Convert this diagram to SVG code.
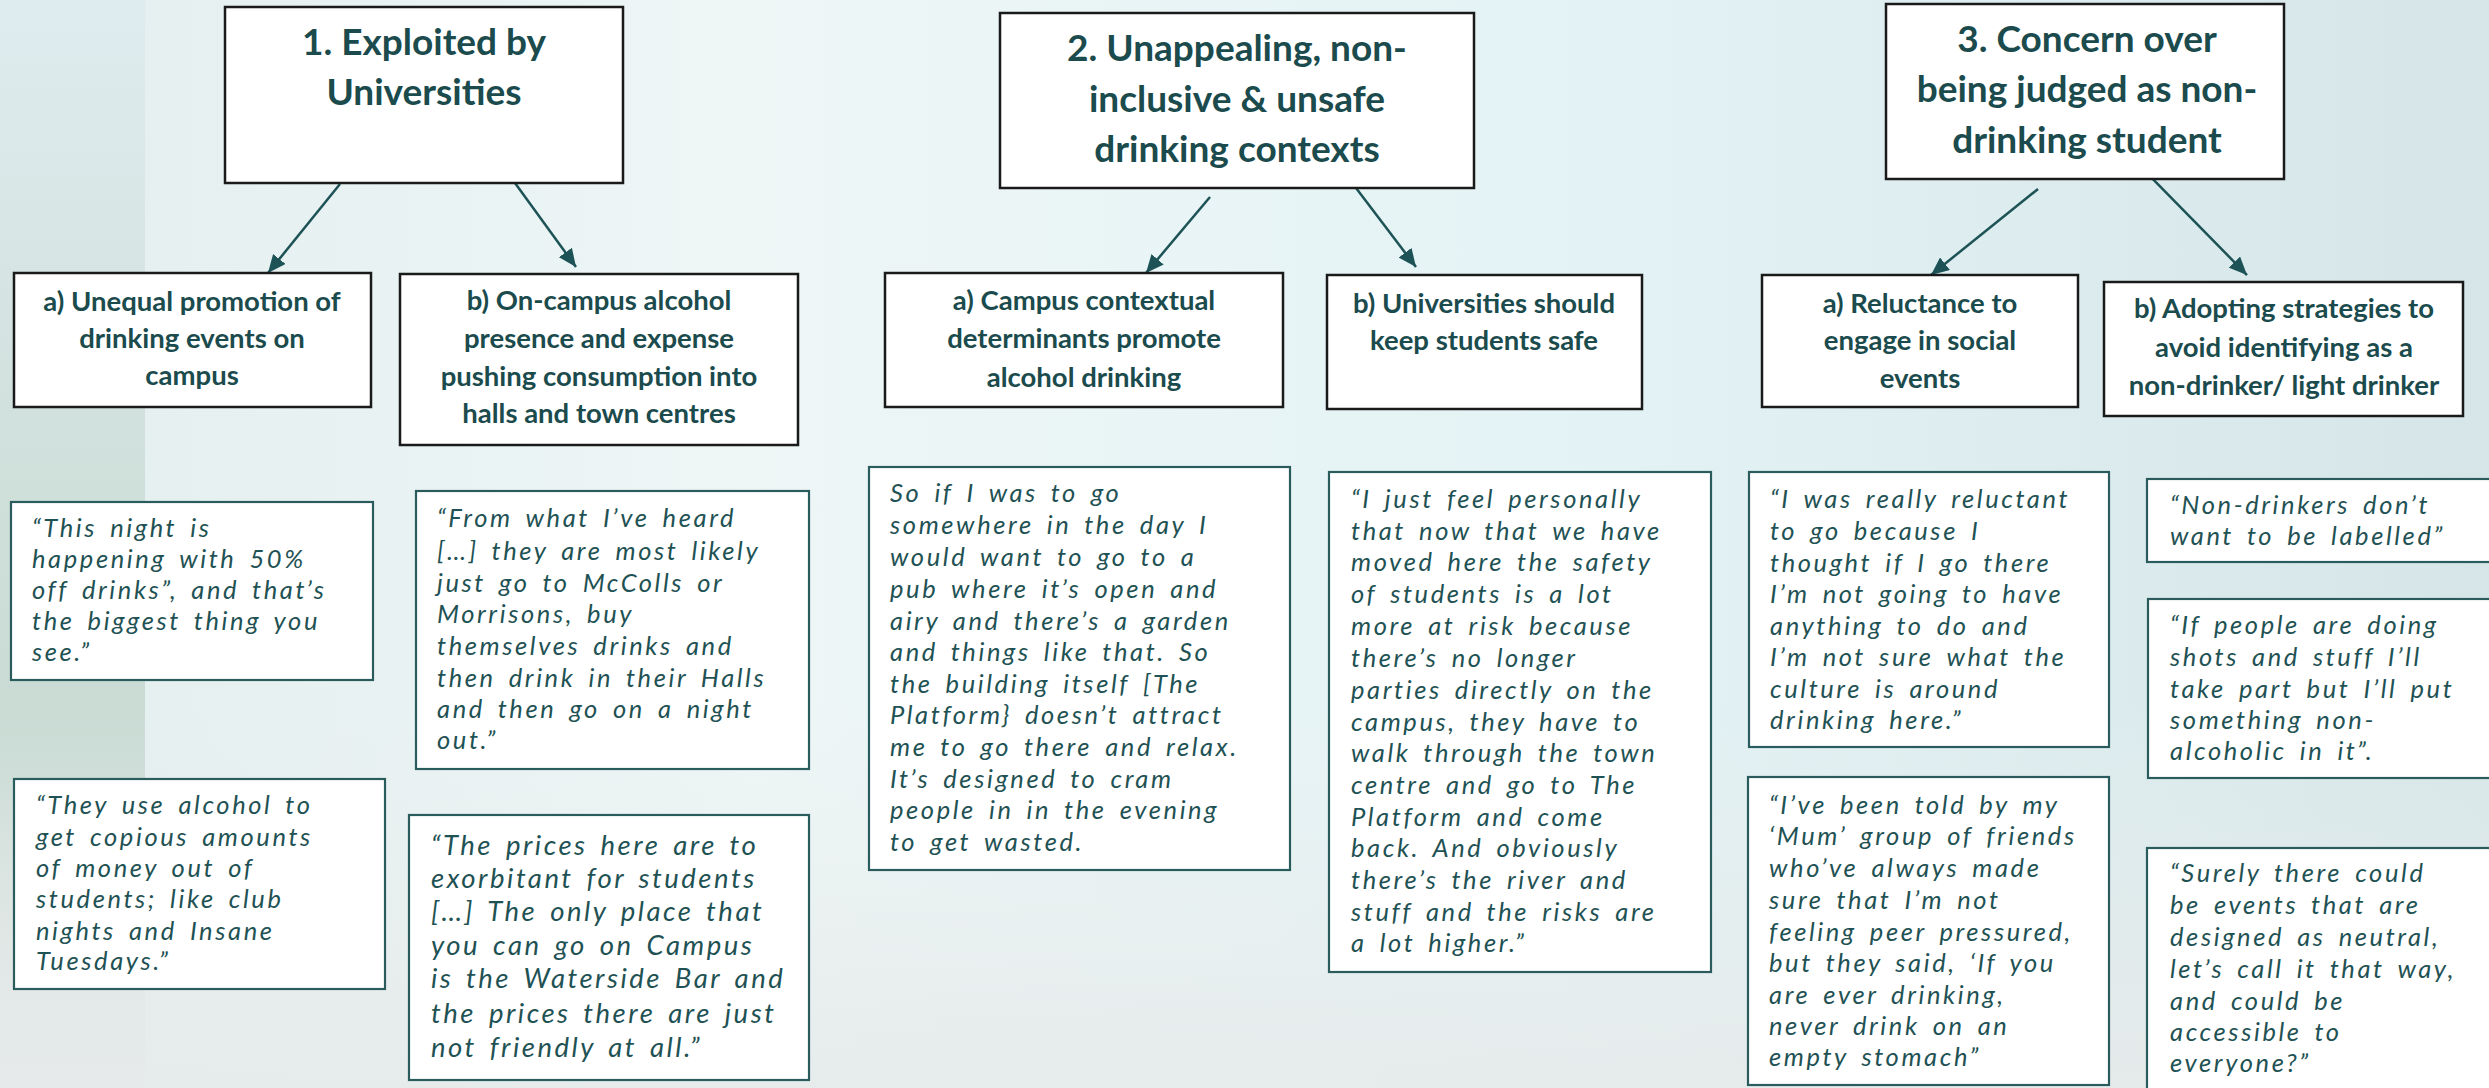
<svg xmlns="http://www.w3.org/2000/svg" width="2489" height="1088" viewBox="0 0 2489 1088">
<style>
.hbox{fill:#ffffff;stroke:#1a1a1a;stroke-width:2.5}
.qbox{fill:#ffffff;stroke:#2a5b5d;stroke-width:2.2}
.title{font-family:Lato,"Open Sans","Liberation Sans",sans-serif;font-weight:700;font-size:37px;fill:#1b4b4d;text-anchor:middle}
.sub{font-family:Lato,"Open Sans","Liberation Sans",sans-serif;font-weight:700;font-size:27.5px;fill:#1b4b4d;text-anchor:middle}
.q{font-family:Lato,"Open Sans","Liberation Sans",sans-serif;font-style:italic;font-size:25.5px;letter-spacing:2.6px;word-spacing:4.5px;fill:#1f5254}
.q2{font-family:Lato,"Open Sans","Liberation Sans",sans-serif;font-style:italic;font-size:27.5px;letter-spacing:2.5px;word-spacing:4px;fill:#1f5254}
.conn{stroke:#1d5356;stroke-width:2.5;fill:none}
</style>
<defs>
<linearGradient id="bgH" x1="0" y1="0" x2="1" y2="0">
<stop offset="0" stop-color="#e3eeee"/>
<stop offset="0.3" stop-color="#eef6f6"/>
<stop offset="0.62" stop-color="#e4f3f5"/>
<stop offset="1" stop-color="#d6e6e8"/>
</linearGradient>
<linearGradient id="bgL" x1="0" y1="0" x2="0" y2="1">
<stop offset="0" stop-color="#dfecef"/>
<stop offset="0.45" stop-color="#cfdfda"/>
<stop offset="0.7" stop-color="#c9dad3"/>
<stop offset="1" stop-color="#e3e8e7"/>
</linearGradient>
<linearGradient id="bgB" x1="0" y1="0" x2="0" y2="1">
<stop offset="0" stop-color="#e8eeee" stop-opacity="0"/>
<stop offset="1" stop-color="#e6eaea" stop-opacity="0.9"/>
</linearGradient>
<marker id="ah" markerUnits="userSpaceOnUse" markerWidth="18" markerHeight="16" refX="18" refY="8" orient="auto">
<path d="M0,0 L18,8 L0,16 z" fill="#1d5356"/>
</marker>
</defs>
<rect x="0" y="0" width="2489" height="1088" fill="url(#bgH)"/>
<rect x="0" y="0" width="145" height="1088" fill="url(#bgL)"/>
<rect x="0" y="700" width="2489" height="388" fill="url(#bgB)"/>

<g id="connectors">
<line class="conn" x1="340" y1="184" x2="268" y2="273" marker-end="url(#ah)"/>
<line class="conn" x1="515" y1="183" x2="576" y2="267" marker-end="url(#ah)"/>
<line class="conn" x1="1210" y1="197" x2="1146" y2="273" marker-end="url(#ah)"/>
<line class="conn" x1="1353" y1="184" x2="1416" y2="267" marker-end="url(#ah)"/>
<line class="conn" x1="2038" y1="189" x2="1931" y2="275" marker-end="url(#ah)"/>
<line class="conn" x1="2148" y1="174" x2="2247" y2="275" marker-end="url(#ah)"/>
</g>

<g id="theme1">
<rect class="hbox" x="225" y="7" width="398" height="176"/>
<text class="title"><tspan x="424" y="55">1. Exploited by</tspan><tspan x="424" y="105">Universities</tspan></text>
</g>
<g id="theme2">
<rect class="hbox" x="1000" y="13" width="474" height="175"/>
<text class="title"><tspan x="1237" y="61">2. Unappealing, non-</tspan><tspan x="1237" y="112">inclusive &amp; unsafe</tspan><tspan x="1237" y="162">drinking contexts</tspan></text>
</g>
<g id="theme3">
<rect class="hbox" x="1886" y="4" width="398" height="175"/>
<text class="title"><tspan x="2087" y="52">3. Concern over</tspan><tspan x="2087" y="102">being judged as non-</tspan><tspan x="2087" y="153">drinking student</tspan></text>
</g>

<g id="sub1a">
<rect class="hbox" x="14" y="273" width="357" height="134"/>
<text class="sub"><tspan x="192" y="311">a) Unequal promotion of</tspan><tspan x="192" y="348">drinking events on</tspan><tspan x="192" y="385">campus</tspan></text>
</g>
<g id="sub1b">
<rect class="hbox" x="400" y="274" width="398" height="171"/>
<text class="sub"><tspan x="599" y="310">b) On-campus alcohol</tspan><tspan x="599" y="348">presence and  expense</tspan><tspan x="599" y="386">pushing consumption into</tspan><tspan x="599" y="423">halls and town centres</tspan></text>
</g>
<g id="sub2a">
<rect class="hbox" x="885" y="273" width="398" height="134"/>
<text class="sub"><tspan x="1084" y="310">a) Campus contextual</tspan><tspan x="1084" y="348">determinants promote</tspan><tspan x="1084" y="387">alcohol drinking</tspan></text>
</g>
<g id="sub2b">
<rect class="hbox" x="1327" y="275" width="315" height="134"/>
<text class="sub"><tspan x="1484" y="313">b) Universities should</tspan><tspan x="1484" y="350">keep students safe</tspan></text>
</g>
<g id="sub3a">
<rect class="hbox" x="1762" y="275" width="316" height="132"/>
<text class="sub"><tspan x="1920" y="313">a) Reluctance to</tspan><tspan x="1920" y="350">engage in social</tspan><tspan x="1920" y="388">events</tspan></text>
</g>
<g id="sub3b">
<rect class="hbox" x="2104" y="282" width="359" height="134"/>
<text class="sub"><tspan x="2284" y="318">b) Adopting strategies to</tspan><tspan x="2284" y="357">avoid identifying as a</tspan><tspan x="2284" y="395">non-drinker/ light drinker</tspan></text>
</g>

<g id="quote1a1">
<rect class="qbox" x="11" y="502" width="362" height="178"/>
<text class="q"><tspan x="32" y="537">“This night is</tspan><tspan x="32" y="568">happening with 50%</tspan><tspan x="32" y="599">off drinks”, and that’s</tspan><tspan x="32" y="630">the biggest thing you</tspan><tspan x="32" y="661">see.”</tspan></text>
</g>
<g id="quote1a2">
<rect class="qbox" x="14" y="779" width="371" height="210"/>
<text class="q"><tspan x="36" y="814">“They use alcohol to</tspan><tspan x="36" y="846">get copious amounts</tspan><tspan x="36" y="877">of money out of</tspan><tspan x="36" y="908">students; like club</tspan><tspan x="36" y="940">nights and Insane</tspan><tspan x="36" y="970">Tuesdays.”</tspan></text>
</g>
<g id="quote1b1">
<rect class="qbox" x="416" y="491" width="393" height="278"/>
<text class="q"><tspan x="437" y="527">“From what I’ve heard</tspan><tspan x="437" y="560">[…] they are most likely</tspan><tspan x="437" y="592">just go to McColls or</tspan><tspan x="437" y="623">Morrisons, buy</tspan><tspan x="437" y="655">themselves drinks and</tspan><tspan x="437" y="687">then drink in their Halls</tspan><tspan x="437" y="718">and then go on a night</tspan><tspan x="437" y="749">out.”</tspan></text>
</g>
<g id="quote1b2">
<rect class="qbox" x="409" y="815" width="400" height="265"/>
<text class="q2"><tspan x="431" y="855">“The prices here are to</tspan><tspan x="431" y="888">exorbitant for students</tspan><tspan x="431" y="921">[…] The only place that</tspan><tspan x="431" y="955">you can go on Campus</tspan><tspan x="431" y="988">is the Waterside Bar and</tspan><tspan x="431" y="1023">the prices there are just</tspan><tspan x="431" y="1057">not friendly at all.”</tspan></text>
</g>
<g id="quote2a">
<rect class="qbox" x="869" y="467" width="421" height="403"/>
<text class="q"><tspan x="890" y="502">So if I was to go</tspan><tspan x="890" y="534">somewhere in the day I</tspan><tspan x="890" y="566">would want to go to a</tspan><tspan x="890" y="598">pub where it’s open and</tspan><tspan x="890" y="630">airy and there’s a garden</tspan><tspan x="890" y="661">and things like that.  So</tspan><tspan x="890" y="693">the building itself [The</tspan><tspan x="890" y="724">Platform} doesn’t attract</tspan><tspan x="890" y="756">me to go there and relax.</tspan><tspan x="890" y="788">It’s designed to cram</tspan><tspan x="890" y="819">people in in the evening</tspan><tspan x="890" y="851">to get wasted.</tspan></text>
</g>
<g id="quote2b">
<rect class="qbox" x="1329" y="472" width="382" height="500"/>
<text class="q"><tspan x="1351" y="508">“I just feel personally</tspan><tspan x="1351" y="540">that now that we have</tspan><tspan x="1351" y="571">moved here the safety</tspan><tspan x="1351" y="603">of students is a lot</tspan><tspan x="1351" y="635">more at risk because</tspan><tspan x="1351" y="667">there’s no longer</tspan><tspan x="1351" y="699">parties directly on the</tspan><tspan x="1351" y="731">campus, they have to</tspan><tspan x="1351" y="762">walk through the town</tspan><tspan x="1351" y="794">centre and go to The</tspan><tspan x="1351" y="826">Platform and come</tspan><tspan x="1351" y="857">back.  And obviously</tspan><tspan x="1351" y="889">there’s the river and</tspan><tspan x="1351" y="921">stuff and the risks are</tspan><tspan x="1351" y="952">a lot higher.”</tspan></text>
</g>
<g id="quote3a1">
<rect class="qbox" x="1749" y="472" width="360" height="275"/>
<text class="q"><tspan x="1770" y="508">“I was really reluctant</tspan><tspan x="1770" y="540">to go because I</tspan><tspan x="1770" y="572">thought if I go there</tspan><tspan x="1770" y="603">I’m not going to have</tspan><tspan x="1770" y="635">anything to do and</tspan><tspan x="1770" y="666">I’m not sure what the</tspan><tspan x="1770" y="698">culture is around</tspan><tspan x="1770" y="729">drinking here.”</tspan></text>
</g>
<g id="quote3a2">
<rect class="qbox" x="1748" y="777" width="361" height="308"/>
<text class="q"><tspan x="1769" y="814">“I’ve been told by my</tspan><tspan x="1769" y="845">‘Mum’ group of friends</tspan><tspan x="1769" y="877">who’ve always made</tspan><tspan x="1769" y="909">sure that I’m not</tspan><tspan x="1769" y="941">feeling peer pressured,</tspan><tspan x="1769" y="972">but they said, ‘If you</tspan><tspan x="1769" y="1004">are ever drinking,</tspan><tspan x="1769" y="1035">never drink on an</tspan><tspan x="1769" y="1066">empty stomach”</tspan></text>
</g>
<g id="quote3b1">
<rect class="qbox" x="2147" y="479" width="350" height="83"/>
<text class="q"><tspan x="2170" y="514">“Non-drinkers don’t</tspan><tspan x="2170" y="545">want to be labelled”</tspan></text>
</g>
<g id="quote3b2">
<rect class="qbox" x="2148" y="599" width="350" height="179"/>
<text class="q"><tspan x="2170" y="634">“If people are doing</tspan><tspan x="2170" y="666">shots and stuff I’ll</tspan><tspan x="2170" y="698">take part but I’ll put</tspan><tspan x="2170" y="729">something non-</tspan><tspan x="2170" y="760">alcoholic in it”.</tspan></text>
</g>
<g id="quote3b3">
<rect class="qbox" x="2147" y="848" width="350" height="250"/>
<text class="q"><tspan x="2170" y="882">“Surely there could</tspan><tspan x="2170" y="914">be events that are</tspan><tspan x="2170" y="946">designed as neutral,</tspan><tspan x="2170" y="978">let’s call it that way,</tspan><tspan x="2170" y="1010">and could be</tspan><tspan x="2170" y="1041">accessible to</tspan><tspan x="2170" y="1072">everyone?”</tspan></text>
</g>
</svg>
